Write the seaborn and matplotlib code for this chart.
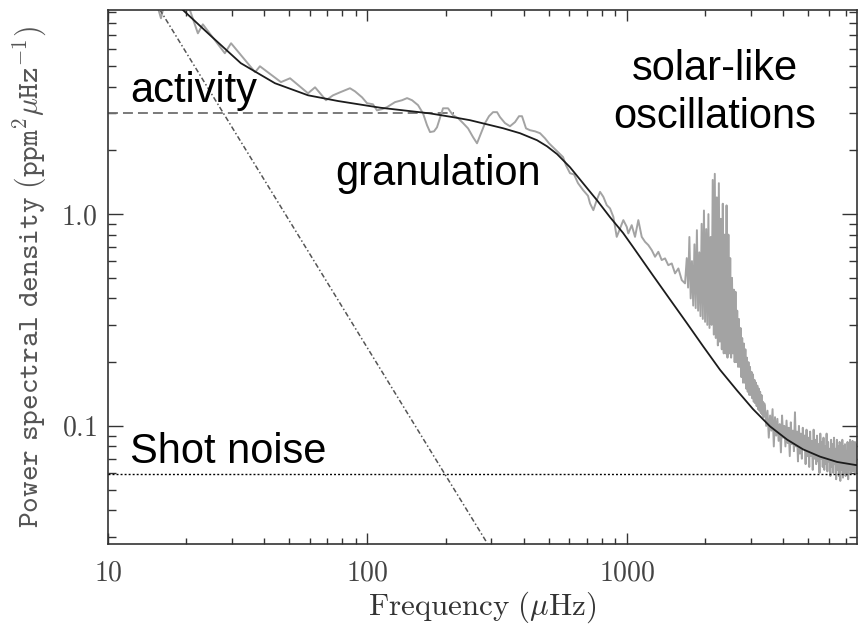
import numpy as np
import matplotlib
matplotlib.use("Agg")
import matplotlib.pyplot as plt
import seaborn as sns
from matplotlib.ticker import FixedLocator, FixedFormatter, LogLocator, NullFormatter

# ---------------- data ----------------
# observed power spectrum, low / mid frequency part (muHz, ppm^2/muHz)
spec_lf_freq = [14.5, 15.6, 16.0, 16.4, 18.1, 20.7, 22.2, 23.2, 28.2, 29.8, 36.9, 38.5,
                46.4, 50.3, 59.0, 62.8, 69.2, 73.7, 78.4, 85.6, 89.5, 95.3, 99.6, 105.0,
                108.8, 113.8, 118.9, 127.7, 135.9, 142.1, 148.5, 156.6, 163.7, 169.6, 174.2,
                180.5, 185.3, 195.5, 204.4, 213.6, 223.3, 233.5, 244.1, 255.1, 264.3, 273.8,
                283.8, 294.0, 304.7, 315.7, 324.2, 338.8, 354.2, 370.3, 383.7, 394.0, 408.3,
                423.0, 442.2, 462.3, 483.2, 500.6, 518.7, 542.3, 567.0, 582.1, 603.2, 625.0,
                647.6, 677.0, 707.7, 720.6, 742, 764.6, 787.4, 810.8, 835.6, 860.4, 886.1,
                913.2, 940.3, 968.3, 998, 1012, 1043, 1074, 1106, 1140, 1174, 1209, 1246,
                1283, 1321, 1361, 1402, 1443, 1488, 1532, 1578, 1626, 1674]
spec_lf_psd = [12.7, 9.37, 8.41, 9.57, 11.4, 9.17, 7.14, 7.87, 5.75, 6.41, 4.68, 4.99,
               4.20, 4.38, 3.72, 3.97, 3.45, 3.64, 3.76, 3.93, 3.80, 3.56, 3.34, 3.30,
               3.09, 3.13, 3.20, 3.38, 3.45, 3.53, 3.45, 3.27, 2.99, 2.63, 2.44,
               2.46, 2.57, 3.16, 3.16, 2.93, 2.84, 2.69, 2.54, 2.31, 2.16, 2.41,
               2.69, 2.90, 3.03, 3.03, 2.87, 2.69, 2.60, 2.72, 2.90, 2.90, 2.54,
               2.49, 2.46, 2.41, 2.28, 2.16, 2.07, 1.96, 1.86, 1.70, 1.56, 1.54,
               1.40, 1.30, 1.22, 1.123, 1.044, 1.164, 1.274, 1.207, 1.103, 1.064, 0.971,
               0.781, 0.856, 0.937, 0.871, 0.811, 0.887, 0.781, 0.937, 0.781, 0.740, 0.714,
               0.676, 0.629, 0.664, 0.607, 0.618, 0.574, 0.585, 0.525, 0.554, 0.488, 0.471]

# oscillation hump (20 muHz bins from 1700 muHz)
osc_freq = np.arange(1700, 3400, 20)
osc_psd = [0.62, 0.45, 0.78, 0.40, 0.60, 0.37, 0.72, 0.36, 0.84, 0.35,
           0.66, 0.33, 0.90, 0.32, 1.04, 0.31, 0.85, 0.30, 1.00, 0.29,
           0.78, 0.30, 1.45, 0.27, 1.55, 0.26, 1.20, 0.24, 1.40, 0.25,
           0.95, 0.23, 1.12, 0.22, 0.80, 0.22, 1.10, 0.21, 0.80, 0.22,
           0.62, 0.21, 0.50, 0.22, 0.44, 0.20, 0.43, 0.20, 0.35, 0.19,
           0.32, 0.19, 0.29, 0.17, 0.26, 0.16, 0.245, 0.16, 0.23, 0.15,
           0.21, 0.145, 0.20, 0.14, 0.19, 0.14, 0.18, 0.135, 0.175, 0.13,
           0.165, 0.128, 0.16, 0.124, 0.155, 0.12, 0.15, 0.118, 0.145, 0.115,
           0.14, 0.113, 0.13, 0.11, 0.128]

# high-frequency tail (40 muHz bins from 3400 muHz)
tail_freq = np.arange(3400, 7700, 40)
tail_psd = [0.125, 0.100, 0.118, 0.088, 0.112, 0.095, 0.120, 0.080, 0.110, 0.090,
            0.108, 0.085, 0.102, 0.075, 0.112, 0.088, 0.100, 0.080, 0.106, 0.083,
            0.098, 0.072, 0.104, 0.082, 0.095, 0.076, 0.116, 0.080, 0.094, 0.068,
            0.100, 0.074, 0.092, 0.070, 0.098, 0.078, 0.090, 0.066, 0.096, 0.072,
            0.088, 0.064, 0.094, 0.072, 0.085, 0.062, 0.096, 0.070, 0.086, 0.066,
            0.090, 0.068, 0.082, 0.060, 0.092, 0.070, 0.084, 0.064, 0.088, 0.062,
            0.080, 0.066, 0.092, 0.061, 0.084, 0.068, 0.078, 0.058, 0.086, 0.064,
            0.082, 0.060, 0.088, 0.066, 0.078, 0.056, 0.086, 0.062, 0.080, 0.058,
            0.084, 0.055, 0.078, 0.062, 0.086, 0.057, 0.080, 0.060, 0.082, 0.058,
            0.076, 0.060, 0.084, 0.056, 0.080, 0.062, 0.086, 0.060, 0.078, 0.063,
            0.085, 0.061, 0.080, 0.064, 0.084, 0.060, 0.082, 0.062]

# fitted background model (solid black)
model_freq = [17.0, 19.5, 24.3, 32.5, 44.0, 59.0, 77.0, 112, 174, 217, 248.5, 333, 387,
              450, 492, 538, 603, 677, 766, 860, 966, 1055, 1260, 1466, 1704, 1964, 2284,
              2656, 3061, 3559, 4140, 4771, 5549, 6451, 7705]
model_psd = [10.7, 9.17, 7.14, 5.16, 4.15, 3.64, 3.42, 3.18, 2.99, 2.86, 2.776, 2.544, 2.41,
             2.234, 2.09, 1.92, 1.666, 1.40, 1.164, 0.968, 0.815, 0.70, 0.513, 0.395,
             0.305, 0.238, 0.184, 0.147, 0.120, 0.0995, 0.0862, 0.0775, 0.0716, 0.0676,
             0.0652]

# components
granulation_freq = [10, 215]
granulation_psd = [3.0, 3.0]
activity_freq = [15.0, 300]
activity_psd = [10.3, 0.026]
noise_freq = [10, 7700]
noise_psd = [0.0594, 0.0594]

x_ticks = [10, 100, 1000]
x_labels = ["$10$", "$100$", "$1000$"]
y_ticks = [0.1, 1.0]
y_labels = ["$0.1$", "$1.0$"]

annotations = [("activity", 12.16, 3.38, "left"),
               ("granulation", 75.0, 1.37, "left"),
               ("solar-like", 2185, 4.29, "center"),
               ("oscillations", 2185, 2.54, "center"),
               ("Shot noise", 12.16, 0.0669, "left")]

# ---------------- figure ----------------
sns.set_theme(style="ticks")
plt.rcParams["font.family"] = ["Liberation Sans", "DejaVu Sans"]
plt.rcParams["mathtext.fontset"] = "cm"

W, H = 858, 624
fig = plt.figure(figsize=(W / 100, H / 100), dpi=100)
ax = fig.add_axes([108 / W, 1 - 544 / H, (857 - 108) / W, (544 - 10) / H])
ax.set_xscale("log")
ax.set_yscale("log")

spec_freq = np.concatenate([spec_lf_freq, osc_freq, tail_freq])
spec_psd = np.concatenate([spec_lf_psd, osc_psd, tail_psd])

ax.plot(granulation_freq, granulation_psd, ls=(0, (5.5, 2.8)), color="#707070", lw=1.3, zorder=1)
sns.lineplot(x=spec_freq, y=spec_psd, estimator=None, sort=False, color="#a3a3a3",
             lw=1.4, ax=ax, zorder=2)
sns.lineplot(x=model_freq, y=model_psd, estimator=None, sort=False, color="#1c1c1c",
             lw=1.3, ax=ax, zorder=3)
ax.plot(noise_freq, noise_psd, ls=(0, (1.4, 1.5)), color="black", lw=1.0, zorder=4)
ax.plot(activity_freq, activity_psd, ls=(0, (3.3, 1.6, 1.0, 1.6)), color="#555555",
        lw=1.1, zorder=4)

ax.set_xlim(10, 7700)
ax.set_ylim(0.0277, 9.2)

ax.xaxis.set_major_locator(FixedLocator(x_ticks))
ax.xaxis.set_major_formatter(FixedFormatter(x_labels))
ax.xaxis.set_minor_locator(LogLocator(base=10, subs=np.arange(2, 10)))
ax.xaxis.set_minor_formatter(NullFormatter())
ax.yaxis.set_major_locator(FixedLocator(y_ticks))
ax.yaxis.set_major_formatter(FixedFormatter(y_labels))
ax.yaxis.set_minor_locator(LogLocator(base=10, subs=np.arange(2, 10)))
ax.yaxis.set_minor_formatter(NullFormatter())

ax.tick_params(which="both", direction="in", top=True, right=True,
               color="#333333", width=1.0, labelcolor="#444444", labelsize=20)
ax.tick_params(axis="x", which="major", length=8, pad=12)
ax.tick_params(axis="x", which="minor", length=4)
ax.tick_params(axis="y", which="major", length=11, pad=8)
ax.tick_params(axis="y", which="minor", length=5.5)
for s in ax.spines.values():
    s.set_linewidth(1.2)
    s.set_color("#333333")

ax.set_xlabel(r"$\mathrm{Frequency}\ (\mu\mathrm{Hz})$", fontsize=22.3, color="#333333", labelpad=2)
ax.set_ylabel(r"$\mathtt{Power\ spectral\ density\ (ppm}^{\mathtt{2}}\mu\mathtt{Hz}^{\mathtt{-1}}\mathtt{)}$",
              fontsize=21.5, color="#555555", labelpad=8)

for txt, fx, fy, ha in annotations:
    ax.text(fx, fy, txt, fontsize=30, ha=ha, va="baseline", color="black",
            family=["Liberation Sans", "DejaVu Sans"], zorder=6)

fig.savefig("out.png", dpi=100)
